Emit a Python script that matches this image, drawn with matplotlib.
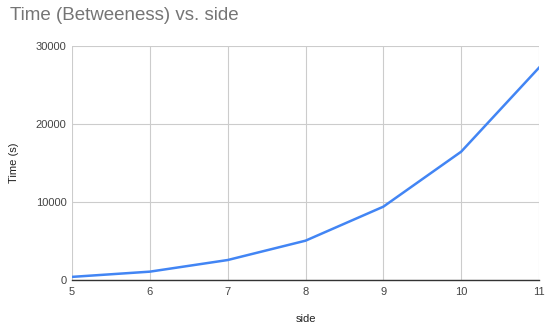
import matplotlib
matplotlib.use("Agg")
import matplotlib.pyplot as plt

side = [5, 6, 7, 8, 9, 10, 11]
time_s = [400, 1070, 2560, 5040, 9400, 16450, 27220]
y_ticks = [0, 10000, 20000, 30000]

plt.rcParams['font.family'] = ['Liberation Sans', 'DejaVu Sans']

fig = plt.figure(figsize=(5.46, 3.24), dpi=100)
ax = fig.add_axes([72/546, 44/324, (539-72)/546, (280-46)/324])

ax.plot(side, time_s, color='#4285F4', linewidth=1.8, solid_joinstyle='round', zorder=3)

ax.set_xlim(5, 11)
ax.set_ylim(0, 30000)
ax.set_xticks(side)
ax.set_yticks(y_ticks)
ax.grid(True, color='#cccccc', linewidth=0.8)
ax.set_axisbelow(True)
for s in ['top', 'right', 'left']:
    ax.spines[s].set_visible(False)
ax.spines['bottom'].set_color('#333333')
ax.spines['bottom'].set_linewidth(1.0)
ax.spines['bottom'].set_zorder(4)
ax.tick_params(length=0, labelsize=8, colors='#444444', pad=5)
ax.tick_params(axis='y', pad=4)

ax.set_xlabel('side', fontsize=8, color='#222222', labelpad=12)
ax.set_ylabel('Time (s)', fontsize=8, color='#222222', labelpad=12)

fig.text(10/546, 1 - 16/324, 'Time (Betweeness) vs. side', fontsize=13.5,
         color='#757575', ha='left', va='center')

fig.savefig('out.png', dpi=100, facecolor='white')
